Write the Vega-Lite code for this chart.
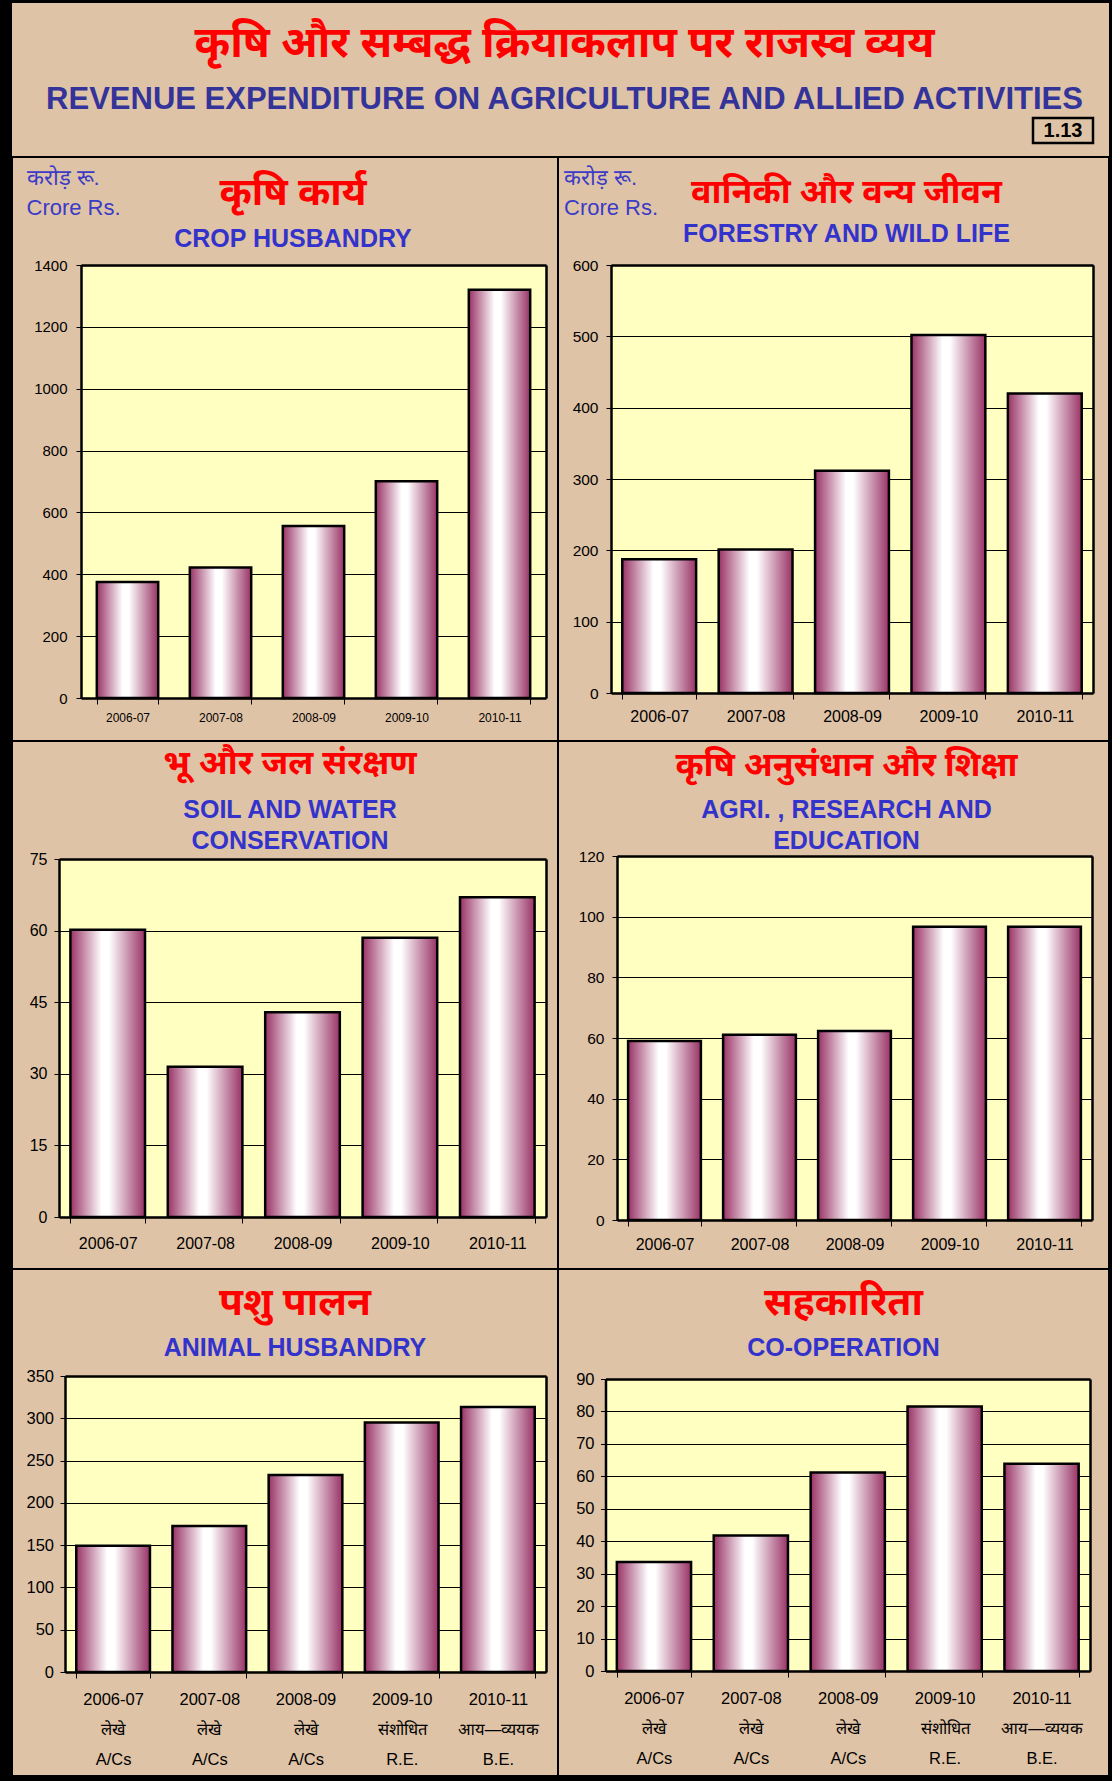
{
  "$schema": "https://vega.github.io/schema/vega-lite/v6.json",
  "background": "#000000",
  "padding": {"left": 11, "top": 3, "right": 4, "bottom": 5},
  "columns": 2,
  "spacing": 0,
  "bounds": "flush",
  "align": "each",
  "datasets": {
    "crop": [{"yr": "2006-07", "val": 375}, {"yr": "2007-08", "val": 422}, {"yr": "2008-09", "val": 556}, {"yr": "2009-10", "val": 701}, {"yr": "2010-11", "val": 1320}],
    "forest": [{"yr": "2006-07", "val": 187.5}, {"yr": "2007-08", "val": 201}, {"yr": "2008-09", "val": 311.5}, {"yr": "2009-10", "val": 502}, {"yr": "2010-11", "val": 420}],
    "soil": [{"yr": "2006-07", "val": 60.2}, {"yr": "2007-08", "val": 31.5}, {"yr": "2008-09", "val": 42.9}, {"yr": "2009-10", "val": 58.5}, {"yr": "2010-11", "val": 67}],
    "agri": [{"yr": "2006-07", "val": 59}, {"yr": "2007-08", "val": 61.1}, {"yr": "2008-09", "val": 62.3}, {"yr": "2009-10", "val": 96.7}, {"yr": "2010-11", "val": 96.7}],
    "animal": [{"yr": "2006-07|लेखे|A/Cs", "val": 149.4}, {"yr": "2007-08|लेखे|A/Cs", "val": 172.6}, {"yr": "2008-09|लेखे|A/Cs", "val": 232.8}, {"yr": "2009-10|संशोधित|R.E.", "val": 295}, {"yr": "2010-11|आय—व्ययक|B.E.", "val": 313.4}],
    "coop": [{"yr": "2006-07|लेखे|A/Cs", "val": 33.6}, {"yr": "2007-08|लेखे|A/Cs", "val": 41.8}, {"yr": "2008-09|लेखे|A/Cs", "val": 61.2}, {"yr": "2009-10|संशोधित|R.E.", "val": 81.5}, {"yr": "2010-11|आय—व्ययक|B.E.", "val": 63.9}],
    "code": [{"code": "1.13", "v": 1}]
  },
  "config": {
    "font": "Liberation Sans",
    "axis": {"labelFont": "Liberation Sans", "labelColor": "#000000", "tickColor": "#000000", "domainColor": "#000000", "gridColor": "#000000", "gridOpacity": 1, "labelAngle": 0, "titleFont": "Liberation Sans"},
    "axisY": {"titleAngle": 0, "titleAlign": "left", "titleBaseline": "top", "titleFontSize": 22, "titleFontWeight": "normal", "titleColor": "#3B3BC8", "titleLineHeight": 30},
    "title": {"font": "Noto Sans", "color": "#FF0000", "fontWeight": "bold", "subtitleFont": "Liberation Sans", "subtitleFontWeight": "bold", "subtitleColor": "#3333CC", "anchor": "middle", "frame": "group"}
  },
  "concat": [
    {
      "width": 546, "height": 154,
      "view": {"fill": "#DFC3A6", "stroke": null},
      "data": {"values": []},
      "mark": {"type": "point", "opacity": 0}
    },
    {
      "width": 551, "height": 154,
      "view": {"fill": "#DFC3A6", "stroke": null},
      "title": {"text": "कृषि और सम्बद्ध क्रियाकलाप पर राजस्व व्यय\u00a0\u00a0", "subtitle": "REVENUE EXPENDITURE ON AGRICULTURE AND ALLIED ACTIVITIES", "fontSize": 43, "subtitleFontSize": 31, "subtitleColor": "#333399", "subtitlePadding": 18.6, "offset": -112, "dx": -269},
      "data": {"name": "code"},
      "layer": [
        {
          "mark": {"type": "bar", "fill": "#DFC3A6", "stroke": "#000000", "strokeWidth": 2.5},
          "encoding": {
            "x": {"field": "code", "type": "nominal", "scale": {"type": "band", "range": [475, 535], "paddingInner": 0, "paddingOuter": 0}, "axis": null},
            "y": {"field": "v", "type": "quantitative", "scale": {"domain": [0, 1], "range": [140, 115], "nice": false}, "axis": null}
          }
        },
        {
          "mark": {"type": "text", "fontSize": 20, "fontWeight": "bold", "font": "Liberation Sans", "color": "#000000", "baseline": "middle", "align": "center"},
          "encoding": {
            "x": {"field": "code", "type": "nominal", "axis": null},
            "y": {"datum": 0.5, "type": "quantitative", "axis": null},
            "text": {"field": "code"}
          }
        }
      ]
    },
    {
      "width": 546, "height": 584,
      "view": {"fill": "#DFC3A6", "stroke": "#000000", "strokeWidth": 2},
      "title": {"text": "कृषि कार्य", "subtitle": "CROP HUSBANDRY", "fontSize": 39, "subtitleFontSize": 25, "subtitlePadding": 14.3, "offset": -95, "dx": 8},
      "data": {"name": "crop"},
      "resolve": {"axis": {"x": "independent", "y": "independent"}},
      "layer": [
        {"mark": {"type": "point", "opacity": 0},
         "encoding": {
           "x": {"field": "yr", "type": "nominal", "axis": {"orient": "top", "offset": -108, "labels": false, "ticks": false, "grid": false, "domainWidth": 2.5, "title": null}},
           "y": {"field": "val", "type": "quantitative", "axis": {"orient": "left", "offset": -69, "values": [700], "grid": true, "gridColor": "#FFFFC2", "gridWidth": 431, "labels": false, "ticks": false, "domain": false, "title": null}}}},
        {"mark": {"type": "bar", "fill": {"gradient": "linear", "x1": 0, "y1": 0, "x2": 1, "y2": 0, "stops": [{"offset": 0, "color": "#993366"}, {"offset": 0.42, "color": "#FFFFFF"}, {"offset": 0.52, "color": "#FFFFFF"}, {"offset": 1, "color": "#993366"}]}, "stroke": "#000000", "strokeWidth": 2.5},
         "encoding": {
           "x": {"field": "yr", "type": "nominal", "scale": {"type": "band", "range": [69, 534], "paddingInner": 0.34, "paddingOuter": 0.17}, "axis": {"orient": "bottom", "offset": -43, "tickBand": "extent", "tickSize": 6, "labelPadding": 8, "labelFontSize": 12, "domainWidth": 2.5, "grid": false, "title": null}},
           "y": {"field": "val", "type": "quantitative", "scale": {"domain": [0, 1400], "range": [541, 108], "nice": false}, "axis": {"orient": "left", "offset": -69, "values": [0, 200, 400, 600, 800, 1000, 1200, 1400], "format": "d", "grid": true, "tickSize": 5, "labelPadding": 9, "labelFontSize": 15, "domainWidth": 2.5, "title": ["करोड़ रू.", "Crore Rs."], "titleX": -55, "titleY": 10}}}},
        {"mark": {"type": "point", "opacity": 0},
         "encoding": {
           "x": {"field": "yr", "type": "nominal", "axis": null},
           "y": {"field": "val", "type": "quantitative", "axis": {"orient": "right", "offset": -12, "labels": false, "ticks": false, "grid": false, "domainWidth": 2.5, "title": null}}}}
      ]
    },
    {
      "width": 551, "height": 584,
      "view": {"fill": "#DFC3A6", "stroke": "#000000", "strokeWidth": 2},
      "title": {"text": "वानिकी और वन्य जीवन", "subtitle": "FORESTRY AND WILD LIFE", "fontSize": 34, "subtitleFontSize": 25, "subtitlePadding": 11.6, "offset": -90, "dx": 13},
      "data": {"name": "forest"},
      "resolve": {"axis": {"x": "independent", "y": "independent"}},
      "layer": [
        {"mark": {"type": "point", "opacity": 0},
         "encoding": {
           "x": {"field": "yr", "type": "nominal", "axis": {"orient": "top", "offset": -108, "labels": false, "ticks": false, "grid": false, "domainWidth": 2.5, "title": null}},
           "y": {"field": "val", "type": "quantitative", "axis": {"orient": "left", "offset": -53, "values": [300], "grid": true, "gridColor": "#FFFFC2", "gridWidth": 426, "labels": false, "ticks": false, "domain": false, "title": null}}}},
        {"mark": {"type": "bar", "fill": {"gradient": "linear", "x1": 0, "y1": 0, "x2": 1, "y2": 0, "stops": [{"offset": 0, "color": "#993366"}, {"offset": 0.42, "color": "#FFFFFF"}, {"offset": 0.52, "color": "#FFFFFF"}, {"offset": 1, "color": "#993366"}]}, "stroke": "#000000", "strokeWidth": 2.5},
         "encoding": {
           "x": {"field": "yr", "type": "nominal", "scale": {"type": "band", "range": [53, 535], "paddingInner": 0.234, "paddingOuter": 0.117}, "axis": {"orient": "bottom", "offset": -48, "tickBand": "extent", "tickSize": 6, "labelPadding": 9, "labelFontSize": 16, "domainWidth": 2.5, "grid": false, "title": null}},
           "y": {"field": "val", "type": "quantitative", "scale": {"domain": [0, 600], "range": [536, 108], "nice": false}, "axis": {"orient": "left", "offset": -53, "values": [0, 100, 200, 300, 400, 500, 600], "grid": true, "tickSize": 5, "labelPadding": 8, "labelFontSize": 15.5, "domainWidth": 2.5, "title": ["करोड़ रू.", "Crore Rs."], "titleX": -47.5, "titleY": 10}}}},
        {"mark": {"type": "point", "opacity": 0},
         "encoding": {
           "x": {"field": "yr", "type": "nominal", "axis": null},
           "y": {"field": "val", "type": "quantitative", "axis": {"orient": "right", "offset": -16, "labels": false, "ticks": false, "grid": false, "domainWidth": 2.5, "title": null}}}}
      ]
    },
    {
      "width": 546, "height": 528,
      "view": {"fill": "#DFC3A6", "stroke": "#000000", "strokeWidth": 2},
      "title": {"text": "भू और जल संरक्षण", "subtitle": ["SOIL AND WATER", "CONSERVATION"], "fontSize": 34, "subtitleFontSize": 25, "subtitleLineHeight": 31.5, "subtitlePadding": 16.4, "offset": -113, "dx": 5},
      "data": {"name": "soil"},
      "resolve": {"axis": {"x": "independent", "y": "independent"}},
      "layer": [
        {"mark": {"type": "point", "opacity": 0},
         "encoding": {
           "x": {"field": "yr", "type": "nominal", "axis": {"orient": "top", "offset": -118, "labels": false, "ticks": false, "grid": false, "domainWidth": 2.5, "title": null}},
           "y": {"field": "val", "type": "quantitative", "axis": {"orient": "left", "offset": -47, "values": [37.5], "grid": true, "gridColor": "#FFFFC2", "gridWidth": 356, "labels": false, "ticks": false, "domain": false, "title": null}}}},
        {"mark": {"type": "bar", "fill": {"gradient": "linear", "x1": 0, "y1": 0, "x2": 1, "y2": 0, "stops": [{"offset": 0, "color": "#993366"}, {"offset": 0.42, "color": "#FFFFFF"}, {"offset": 0.52, "color": "#FFFFFF"}, {"offset": 1, "color": "#993366"}]}, "stroke": "#000000", "strokeWidth": 2.5},
         "encoding": {
           "x": {"field": "yr", "type": "nominal", "scale": {"type": "band", "range": [47, 534], "paddingInner": 0.234, "paddingOuter": 0.117}, "axis": {"orient": "bottom", "offset": -52, "tickBand": "extent", "tickSize": 6, "labelPadding": 12, "labelFontSize": 16, "domainWidth": 2.5, "grid": false, "title": null}},
           "y": {"field": "val", "type": "quantitative", "scale": {"domain": [0, 75], "range": [476, 118], "nice": false}, "axis": {"orient": "left", "offset": -47, "values": [0, 15, 30, 45, 60, 75], "grid": true, "tickSize": 5, "labelPadding": 7, "labelFontSize": 16, "domainWidth": 2.5, "title": null}}}},
        {"mark": {"type": "point", "opacity": 0},
         "encoding": {
           "x": {"field": "yr", "type": "nominal", "axis": null},
           "y": {"field": "val", "type": "quantitative", "axis": {"orient": "right", "offset": -12, "labels": false, "ticks": false, "grid": false, "domainWidth": 2.5, "title": null}}}}
      ]
    },
    {
      "width": 551, "height": 528,
      "view": {"fill": "#DFC3A6", "stroke": "#000000", "strokeWidth": 2},
      "title": {"text": "कृषि अनुसंधान और शिक्षा", "subtitle": ["AGRI. , RESEARCH AND", "EDUCATION"], "fontSize": 34, "subtitleFontSize": 25, "subtitleLineHeight": 31.5, "subtitlePadding": 14.4, "offset": -113, "dx": 13},
      "data": {"name": "agri"},
      "resolve": {"axis": {"x": "independent", "y": "independent"}},
      "layer": [
        {"mark": {"type": "point", "opacity": 0},
         "encoding": {
           "x": {"field": "yr", "type": "nominal", "axis": {"orient": "top", "offset": -115, "labels": false, "ticks": false, "grid": false, "domainWidth": 2.5, "title": null}},
           "y": {"field": "val", "type": "quantitative", "axis": {"orient": "left", "offset": -59, "values": [60], "grid": true, "gridColor": "#FFFFC2", "gridWidth": 362, "labels": false, "ticks": false, "domain": false, "title": null}}}},
        {"mark": {"type": "bar", "fill": {"gradient": "linear", "x1": 0, "y1": 0, "x2": 1, "y2": 0, "stops": [{"offset": 0, "color": "#993366"}, {"offset": 0.42, "color": "#FFFFFF"}, {"offset": 0.52, "color": "#FFFFFF"}, {"offset": 1, "color": "#993366"}]}, "stroke": "#000000", "strokeWidth": 2.5},
         "encoding": {
           "x": {"field": "yr", "type": "nominal", "scale": {"type": "band", "range": [59, 534], "paddingInner": 0.234, "paddingOuter": 0.117}, "axis": {"orient": "bottom", "offset": -49, "tickBand": "extent", "tickSize": 6, "labelPadding": 10, "labelFontSize": 16, "domainWidth": 2.5, "grid": false, "title": null}},
           "y": {"field": "val", "type": "quantitative", "scale": {"domain": [0, 120], "range": [479, 115], "nice": false}, "axis": {"orient": "left", "offset": -59, "values": [0, 20, 40, 60, 80, 100, 120], "grid": true, "tickSize": 5, "labelPadding": 8, "labelFontSize": 15.5, "domainWidth": 2.5, "title": null}}}},
        {"mark": {"type": "point", "opacity": 0},
         "encoding": {
           "x": {"field": "yr", "type": "nominal", "axis": null},
           "y": {"field": "val", "type": "quantitative", "axis": {"orient": "right", "offset": -17, "labels": false, "ticks": false, "grid": false, "domainWidth": 2.5, "title": null}}}}
      ]
    },
    {
      "width": 546, "height": 507,
      "view": {"fill": "#DFC3A6", "stroke": "#000000", "strokeWidth": 2},
      "title": {"text": "पशु पालन", "subtitle": "ANIMAL  HUSBANDRY", "fontSize": 39, "subtitleFontSize": 25, "subtitlePadding": 13.3, "offset": -92, "dx": 10},
      "data": {"name": "animal"},
      "resolve": {"axis": {"x": "independent", "y": "independent"}},
      "layer": [
        {"mark": {"type": "point", "opacity": 0},
         "encoding": {
           "x": {"field": "yr", "type": "nominal", "axis": {"orient": "top", "offset": -107, "labels": false, "ticks": false, "grid": false, "domainWidth": 2.5, "title": null}},
           "y": {"field": "val", "type": "quantitative", "axis": {"orient": "left", "offset": -53, "values": [175], "grid": true, "gridColor": "#FFFFC2", "gridWidth": 294, "labels": false, "ticks": false, "domain": false, "title": null}}}},
        {"mark": {"type": "bar", "fill": {"gradient": "linear", "x1": 0, "y1": 0, "x2": 1, "y2": 0, "stops": [{"offset": 0, "color": "#993366"}, {"offset": 0.42, "color": "#FFFFFF"}, {"offset": 0.52, "color": "#FFFFFF"}, {"offset": 1, "color": "#993366"}]}, "stroke": "#000000", "strokeWidth": 2.5},
         "encoding": {
           "x": {"field": "yr", "type": "nominal", "scale": {"type": "band", "range": [53, 534], "paddingInner": 0.234, "paddingOuter": 0.117}, "axis": {"orient": "bottom", "offset": -104, "tickBand": "extent", "tickSize": 6, "labelPadding": 13, "labelFontSize": 16.5, "labelLineHeight": 30, "labelExpr": "split(datum.label, '|')", "domainWidth": 2.5, "grid": false, "title": null}},
           "y": {"field": "val", "type": "quantitative", "scale": {"domain": [0, 350], "range": [403, 107], "nice": false}, "axis": {"orient": "left", "offset": -53, "values": [0, 50, 100, 150, 200, 250, 300, 350], "grid": true, "tickSize": 5, "labelPadding": 6.5, "labelFontSize": 16.5, "domainWidth": 2.5, "title": null}}}},
        {"mark": {"type": "point", "opacity": 0},
         "encoding": {
           "x": {"field": "yr", "type": "nominal", "axis": null},
           "y": {"field": "val", "type": "quantitative", "axis": {"orient": "right", "offset": -12, "labels": false, "ticks": false, "grid": false, "domainWidth": 2.5, "title": null}}}}
      ]
    },
    {
      "width": 551, "height": 507,
      "view": {"fill": "#DFC3A6", "stroke": "#000000", "strokeWidth": 2},
      "title": {"text": "सहकारिता", "subtitle": "CO-OPERATION", "fontSize": 39, "subtitleFontSize": 25, "subtitlePadding": 13.3, "offset": -92, "dx": 10},
      "data": {"name": "coop"},
      "resolve": {"axis": {"x": "independent", "y": "independent"}},
      "layer": [
        {"mark": {"type": "point", "opacity": 0},
         "encoding": {
           "x": {"field": "yr", "type": "nominal", "axis": {"orient": "top", "offset": -110, "labels": false, "ticks": false, "grid": false, "domainWidth": 2.5, "title": null}},
           "y": {"field": "val", "type": "quantitative", "axis": {"orient": "left", "offset": -47.5, "values": [45], "grid": true, "gridColor": "#FFFFC2", "gridWidth": 290, "labels": false, "ticks": false, "domain": false, "title": null}}}},
        {"mark": {"type": "bar", "fill": {"gradient": "linear", "x1": 0, "y1": 0, "x2": 1, "y2": 0, "stops": [{"offset": 0, "color": "#993366"}, {"offset": 0.42, "color": "#FFFFFF"}, {"offset": 0.52, "color": "#FFFFFF"}, {"offset": 1, "color": "#993366"}]}, "stroke": "#000000", "strokeWidth": 2.5},
         "encoding": {
           "x": {"field": "yr", "type": "nominal", "scale": {"type": "band", "range": [47.5, 532], "paddingInner": 0.234, "paddingOuter": 0.117}, "axis": {"orient": "bottom", "offset": -105, "tickBand": "extent", "tickSize": 6, "labelPadding": 13, "labelFontSize": 16.5, "labelLineHeight": 30, "labelExpr": "split(datum.label, '|')", "domainWidth": 2.5, "grid": false, "title": null}},
           "y": {"field": "val", "type": "quantitative", "scale": {"domain": [0, 90], "range": [402, 110], "nice": false}, "axis": {"orient": "left", "offset": -47.5, "values": [0, 10, 20, 30, 40, 50, 60, 70, 80, 90], "grid": true, "tickSize": 5, "labelPadding": 6.5, "labelFontSize": 16.5, "domainWidth": 2.5, "title": null}}}},
        {"mark": {"type": "point", "opacity": 0},
         "encoding": {
           "x": {"field": "yr", "type": "nominal", "axis": null},
           "y": {"field": "val", "type": "quantitative", "axis": {"orient": "right", "offset": -19, "labels": false, "ticks": false, "grid": false, "domainWidth": 2.5, "title": null}}}}
      ]
    }
  ]
}
